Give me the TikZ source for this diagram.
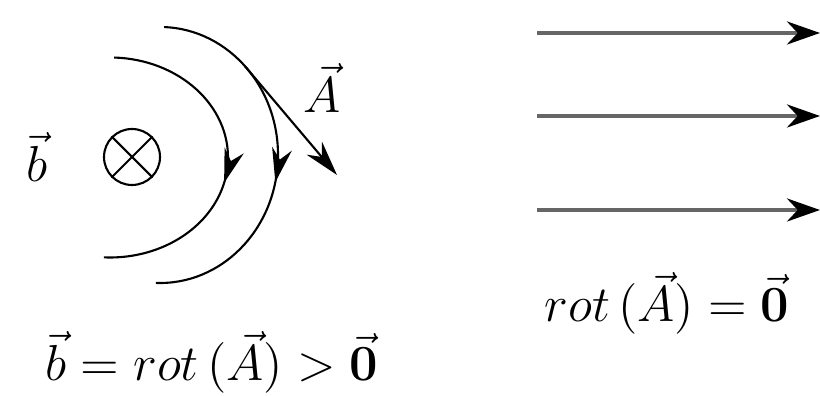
\documentclass[tikz,border=0pt]{standalone}
\usepackage{amsmath,amssymb}
\usetikzlibrary{arrows.meta,decorations.markings}

\begin{document}
\begin{tikzpicture}[
  fld/.style={line width=0.6pt, postaction={decorate},
    decoration={markings, mark=at position 0.56 with {\arrow{Stealth[length=3.4mm,width=2mm]}}}},
  vecline/.style={line width=1.2pt, black!60, -{Stealth[length=3.3mm,width=2.3mm,black]}},
  lbl/.style={font=\fontsize{15}{18}\selectfont, inner sep=0pt}]
  \useasboundingbox (0,0) rectangle (8.2,3.96);
  % champ b entrant
  \node[draw, circle, line width=0.6pt, minimum size=0.56cm, inner sep=0pt] (o) at (1.32,2.39) {};
  \draw[line width=0.6pt] (o.45) -- (o.225) (o.135) -- (o.315);
  \node[lbl] (lb) at (0.37,2.39) {$\vec{b}$};
  % lignes du champ A
  \draw[fld] (1.10,2.385) ++(88:1.18 and 1.0) arc[start angle=88, end angle=-93, x radius=1.18, y radius=1.0];
  \draw[fld] (1.60,2.41) ++(88:1.18 and 1.28) arc[start angle=88, end angle=-92, x radius=1.18, y radius=1.28];
  \path (1.60,2.41) ++(44:1.18 and 1.28) coordinate (a0);
  \coordinate (a1) at (3.37,2.21);
  \draw[line width=0.6pt, -{Stealth[length=3.5mm,width=2mm]}] (a0) -- (a1);
  \node[lbl] (la) at (3.22,3.08) {$\vec{A}$};
  \node[lbl] (eqb) at (2.12,0.34) {$\vec{b} = rot\,(\vec{A}) > \vec{\mathbf{0}}$};
  % champ uniforme
  \foreach \y [count=\i] in {3.63,2.80,1.86} {
    \coordinate (s\i) at (5.37,\y);
    \coordinate (e\i) at (8.2,\y);
    \draw[vecline] (s\i) -- (e\i);
  }
  \node[lbl] (eqr) at (6.67,0.93) {$rot\,(\vec{A}) = \vec{\mathbf{0}}$};
\end{tikzpicture}
\end{document}
